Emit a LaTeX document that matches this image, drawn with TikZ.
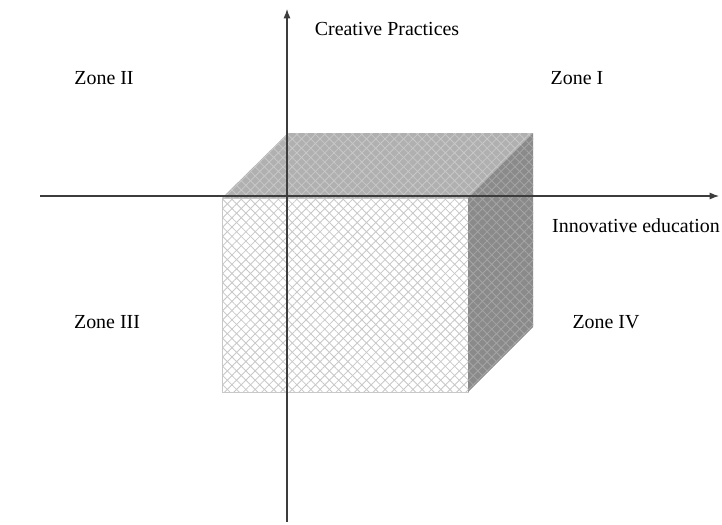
\documentclass[tikz,border=0pt]{standalone}
\usepackage{fontspec}
\setmainfont{Liberation Serif}
\usepackage{tikz}
\usetikzlibrary{arrows.meta, patterns.meta}
\usepackage{xcolor}
\definecolor{hatchlight}{RGB}{200,200,200}
\definecolor{topgray}{RGB}{176,176,176}
\definecolor{topline}{RGB}{200,200,200}
\definecolor{sidegray}{RGB}{138,138,138}
\definecolor{sideline}{RGB}{165,165,165}
\definecolor{axisgray}{RGB}{60,60,60}

\tikzset{
  zonelabel/.style={font=\fontsize{17}{20}\selectfont, text=black, inner sep=0pt},
  axisline/.style={draw=axisgray, line width=0.9pt, -{Latex[length=8pt,width=6pt]}},
  hatch/.style={pattern={Lines[angle=45,distance=5.6pt,line width=0.7pt]}, pattern color=#1},
  hatchback/.style={pattern={Lines[angle=-45,distance=5.6pt,line width=0.7pt]}, pattern color=#1}
}

\begin{document}
\begin{tikzpicture}[x=0.03cm, y=-0.03cm]
    \useasboundingbox (0,0) rectangle (722,524);

    % box corners
    \coordinate (fa) at (222,198);
    \coordinate (fb) at (468,198);
    \coordinate (fc) at (468,392);
    \coordinate (fd) at (222,392);
    \coordinate (ba) at (288,133);
    \coordinate (bb) at (533,133);
    \coordinate (bc) at (533,327);

    % front face
    \fill[white] (fa) -- (fb) -- (fc) -- (fd) -- cycle;
    \fill[hatch=hatchlight] (fa) -- (fb) -- (fc) -- (fd) -- cycle;
    \fill[hatchback=hatchlight] (fa) -- (fb) -- (fc) -- (fd) -- cycle;
    \draw[hatchlight, line width=0.6pt] (fa) -- (fb) -- (fc) -- (fd) -- cycle;

    % top face
    \fill[topgray] (fa) -- (ba) -- (bb) -- (fb) -- cycle;
    \fill[hatch=topline] (fa) -- (ba) -- (bb) -- (fb) -- cycle;
    \fill[hatchback=topline] (fa) -- (ba) -- (bb) -- (fb) -- cycle;

    % side face
    \fill[sidegray] (fb) -- (bb) -- (bc) -- (fc) -- cycle;
    \fill[hatch=sideline] (fb) -- (bb) -- (bc) -- (fc) -- cycle;
    \fill[hatchback=sideline] (fb) -- (bb) -- (bc) -- (fc) -- cycle;

    % axes
    \coordinate (xstart) at (40,196);
    \coordinate (xend) at (719,196);
    \coordinate (ystart) at (287,522);
    \coordinate (yend) at (287,9);
    \draw[axisline] (xstart) -- (xend);
    \draw[axisline] (ystart) -- (yend);

    % labels
    \node[zonelabel] (creative) at (387,29) {Creative Practices};
    \node[zonelabel] (innov) at (636,226) {Innovative education};
    \node[zonelabel] (zone2) at (104,78) {Zone II};
    \node[zonelabel] (zone1) at (577,78) {Zone I};
    \node[zonelabel] (zone3) at (107,322) {Zone III};
    \node[zonelabel] (zone4) at (606,322) {Zone IV};
\end{tikzpicture}
\end{document}
